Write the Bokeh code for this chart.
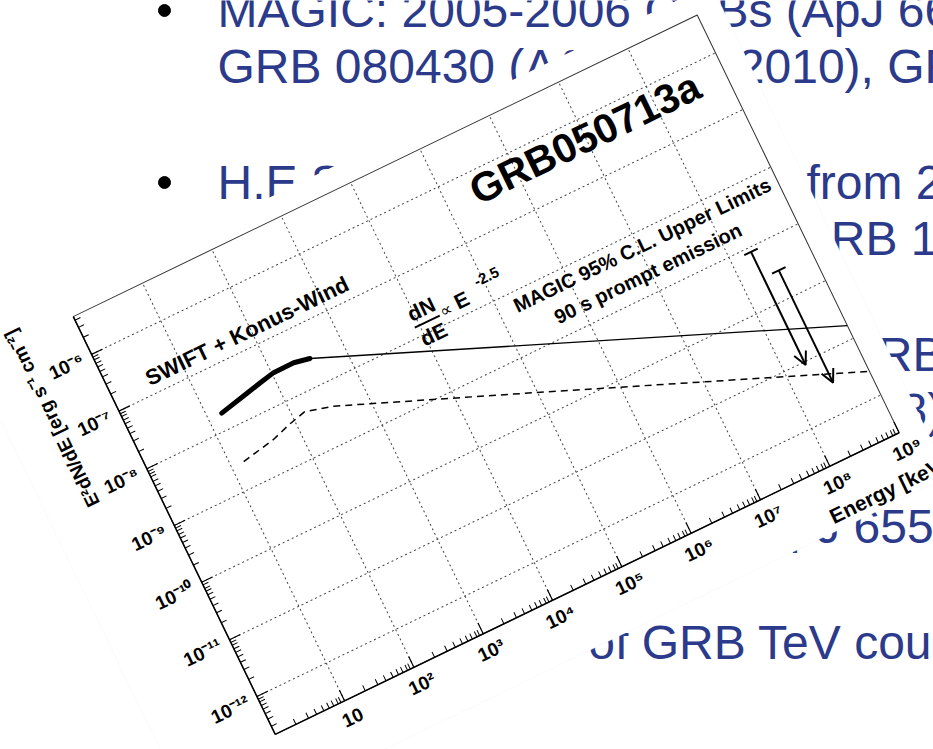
import math
from bokeh.plotting import figure
from bokeh.models import (Range1d, Label, Title, Arrow, OpenHead, ColumnDataSource,
                          FixedTicker, PolyAnnotation)
from bokeh.layouts import column
from bokeh.embed import file_html
from bokeh.resources import INLINE
from bokeh.core.properties import value

SLIDE_BLUE = "#2B3A8A"
FONT = "Liberation Sans"

# ---- slide bullet text: (text, left x, baseline y) in slide pixels ----
slide_texts = [
    "MAGIC: 2005-2006 GRBs (ApJ 667, 358, 2007),",
    "GRB 080430 (A&A 517, 2010), GRB 090102",
    "H.E.S.S.: 32 GRBs",
    "from 2003 to 2007 (A&A 2009),",
    "GRB 100621A (A&A 2014)",
    "VERITAS: 2006-2009",
    "GRBs (ApJ 2011),",
    "(2008)",
    "(ApJ 655",
    "Prospects of GRB TeV counterparts",
]
slide_x = [217, 217, 217, 806, 793, 217, 840, 804, 741, 361]
slide_y = [10, 66, 182, 182, 238, 354, 354, 410, 526, 642]
bullet_x = [164, 164, 164, 164, 164]
bullet_y = [10, 182, 354, 526, 642]

# ---- GRB050713a spectrum ----
swift_energy_kev = [15.5, 39.6, 65.0, 106.0, 207.0, 339.0]
swift_e2dnde = [1.86e-8, 2.39e-8, 2.73e-8, 3.08e-8, 3.10e-8, 2.75e-8]

powerlaw_energy_kev = [339.0, 1.0e9]
powerlaw_e2dnde = [2.75e-8, 1.65e-11]

dashed_energy_kev = [14.9, 44.3, 80.4, 146.0, 344.0, 1.29e5, 1.0e9]
dashed_e2dnde = [2.69e-9, 3.47e-9, 4.37e-9, 5.25e-9, 3.98e-9, 2.19e-10, 2.6e-12]

# MAGIC 95% C.L. upper limits (90 s prompt emission)
ul_energy_kev = [1.95e8, 3.24e8]
ul_e2dnde = [8.43e-10, 2.97e-10]
ul_arrow_end = [8.8e-12, 3.2e-12]

# ---- axes ----
x_tick_values = [1e1, 1e2, 1e3, 1e4, 1e5, 1e6, 1e7, 1e8, 1e9]
x_tick_labels = ["10", "10²", "10³", "10⁴", "10⁵", "10⁶", "10⁷", "10⁸", "10⁹"]
y_tick_values = [1e-12, 1e-11, 1e-10, 1e-9, 1e-8, 1e-7, 1e-6]
y_tick_labels = ["10⁻¹²", "10⁻¹¹", "10⁻¹⁰", "10⁻⁹", "10⁻⁸", "10⁻⁷", "10⁻⁶"]
x_minor = [m * 10.0 ** k for k in range(0, 9) for m in range(2, 10)]
y_minor = [m * 10.0 ** k for k in range(-13, -5) for m in range(2, 10)]

X_MIN, X_MAX = 1.0, 1.0e9
Y_MIN, Y_MAX = 10 ** -12.66, 10 ** -5.34

BORDER_L, BORDER_R, BORDER_T, BORDER_B = 90, 25, 22, 60
FRAME_W, FRAME_H = 694, 465
CHART_W = BORDER_L + FRAME_W + BORDER_R
CHART_H = BORDER_T + FRAME_H + BORDER_B
TILT_DEG = 25.8
CORNER_X, CORNER_Y = 275, 735      # where the axes' origin sits on the slide
SHEET_L, SHEET_R, SHEET_T, SHEET_B = 110, 25, 21, 60   # paper margins around the frame

c, s = math.cos(math.radians(TILT_DEG)), math.sin(math.radians(TILT_DEG))


def on_slide(a, b):
    """Slide position of a point a px along the tilted energy axis and b px
    below it (perpendicular), measured from the axes' origin."""
    return CORNER_X + a * c + b * s, CORNER_Y - a * s + b * c


sheet_corners = [on_slide(-SHEET_L, -(FRAME_H + SHEET_T)),
                 on_slide(FRAME_W + SHEET_R, -(FRAME_H + SHEET_T)),
                 on_slide(FRAME_W + SHEET_R, SHEET_B),
                 on_slide(-SHEET_L, SHEET_B)]

# ---------------- slide background with the paper sheet ----------------
bg = figure(width=933, height=749, x_range=Range1d(0, 933), y_range=Range1d(749, 0),
            x_axis_type=None, y_axis_type=None, toolbar_location=None, tools="",
            output_backend="svg", min_border=0)
bg.outline_line_color = None
bg.background_fill_color = "white"
bg.border_fill_color = "white"
bg.xgrid.visible = False
bg.ygrid.visible = False
bg.text(x=slide_x, y=slide_y, text=slide_texts, text_font=value(FONT),
        text_font_size="48px", text_color=SLIDE_BLUE,
        text_baseline="alphabetic", text_align="left")
bg.scatter(x=bullet_x, y=bullet_y, size=12, color="black", marker="circle")
bg.add_layout(PolyAnnotation(xs=[pt[0] for pt in sheet_corners],
                             ys=[pt[1] for pt in sheet_corners],
                             fill_color="white", fill_alpha=1.0,
                             line_color="#f0f0f0", line_width=1, level="overlay"))

# ---------------- spectrum chart ----------------
p = figure(width=CHART_W, height=CHART_H, x_axis_type="log", y_axis_type="log",
           x_range=Range1d(X_MIN, X_MAX), y_range=Range1d(Y_MIN, Y_MAX),
           toolbar_location=None, tools="", output_backend="svg",
           min_border_left=BORDER_L, min_border_right=BORDER_R,
           min_border_top=BORDER_T, min_border_bottom=BORDER_B)
p.background_fill_color = "white"
p.border_fill_color = "white"
p.outline_line_color = "#333333"
p.outline_line_width = 1

xt = FixedTicker(ticks=x_tick_values, minor_ticks=x_minor)
yt = FixedTicker(ticks=y_tick_values, minor_ticks=y_minor)
p.xaxis.ticker = xt
p.yaxis.ticker = yt
p.xgrid.ticker = xt
p.ygrid.ticker = yt
p.xaxis.major_label_overrides = dict(zip(x_tick_values, x_tick_labels))
p.yaxis.major_label_overrides = dict(zip(y_tick_values, y_tick_labels))

for ax in (p.xaxis, p.yaxis):
    ax.axis_line_color = "black"
    ax.axis_line_width = 1.5
    ax.major_tick_in = 12
    ax.major_tick_out = 0
    ax.minor_tick_in = 6
    ax.minor_tick_out = 0
    ax.major_tick_line_color = "black"
    ax.minor_tick_line_color = "black"
    ax.major_tick_line_width = 1.2
    ax.major_label_text_font = FONT
    ax.major_label_text_font_style = "bold"
    ax.major_label_text_font_size = "19px"
    ax.major_label_text_color = "black"
p.xaxis.major_label_standoff = 8
p.yaxis.major_label_standoff = 10

for g in (p.xgrid, p.ygrid):
    g.grid_line_color = "#444444"
    g.grid_line_dash = "2 3"
    g.grid_line_width = 1

# axis titles at the far ends of the axes
x_title = Title(text="Energy [keV]", align="right", offset=-30, text_color="black",
                text_font=FONT, text_font_size="21px", text_font_style="bold")
y_title = Title(text="E²dN/dE [erg s⁻¹ cm⁻²]", align="right", offset=-15, text_color="black",
                text_font=FONT, text_font_size="19px", text_font_style="bold")
if "standoff" in Title.properties():
    x_title.standoff = 2
    y_title.standoff = 0
p.add_layout(x_title, "below")
p.add_layout(y_title, "left")

# spectrum curves
p.line(swift_energy_kev, swift_e2dnde, line_width=5, color="black", line_cap="round")
p.line(powerlaw_energy_kev, powerlaw_e2dnde, line_width=1.3, color="black")
p.line(dashed_energy_kev, dashed_e2dnde, line_width=1.5, color="black", line_dash="7 5")

# upper limits
ul_src = ColumnDataSource(dict(x=ul_energy_kev, ul=ul_e2dnde, end=ul_arrow_end))
p.add_layout(Arrow(end=OpenHead(size=13, line_width=2, line_color="black"),
                   x_start="x", y_start="ul", x_end="x", y_end="end",
                   source=ul_src, line_width=2, line_color="black"))
p.scatter("x", "ul", source=ul_src, marker="dash", size=15, line_width=2, color="black")


def add_text(text, x, y, size, bold=True, align="center", baseline="middle", **kw):
    p.add_layout(Label(x=x, y=y, text=text, text_font=FONT, text_font_size=size,
                       text_font_style="bold" if bold else "normal", text_color="black",
                       text_align=align, text_baseline=baseline, **kw))


add_text("GRB050713a", 10 ** 6.99, 10 ** -6.32, "41px")
add_text("SWIFT + Konus-Wind", 10 ** 1.95, 10 ** -6.74, "22px")
add_text("dN", 10 ** 4.11, 10 ** -7.622, "21px")
add_text("dE", 10 ** 4.115, 10 ** -8.063, "21px")
p.segment(x0=[10 ** 3.93], y0=[10 ** -7.843], x1=[10 ** 4.29], y1=[10 ** -7.843],
          line_width=2, color="black")
add_text("∝", 10 ** 4.40, 10 ** -7.81, "17px", bold=False)
add_text("E", 10 ** 4.634, 10 ** -7.77, "21px")
add_text("-2.5", 10 ** 5.057, 10 ** -7.613, "15px")
add_text("MAGIC 95% C.L. Upper Limits", 10 ** 7.056, 10 ** -8.231, "20px")
add_text("90 s prompt emission", 10 ** 6.964, 10 ** -8.672, "20px")

# The chart is laid tilted over the paper sheet.  Bokeh sizes its canvas from
# the element's on-screen (rotated) bounding box, so the element box is chosen
# such that its rotated bounding box is exactly CHART_W x CHART_H.
det = c * c - s * s
box_w = (CHART_W * c - CHART_H * s) / det
box_h = (CHART_H * c - CHART_W * s) / det
origin_x, origin_y = BORDER_L, BORDER_T + FRAME_H

p.styles = {
    "position": "absolute",
    "left": f"{CORNER_X - origin_x}px",
    "top": f"{CORNER_Y - origin_y}px",
    "width": f"{box_w:.2f}px",
    "height": f"{box_h:.2f}px",
    "overflow": "visible",
    "transform": f"rotate(-{TILT_DEG}deg)",
    "transform-origin": f"{origin_x}px {origin_y}px",
}

chart_layer = column(p, width=933, height=749,
                     styles={"position": "absolute", "left": "0px", "top": "0px",
                             "overflow": "hidden", "z-index": "10"})

open("out.html", "w").write(file_html([bg, chart_layer], INLINE))
